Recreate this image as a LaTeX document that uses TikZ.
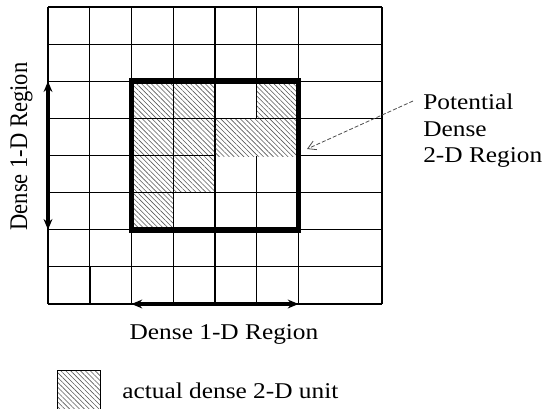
\documentclass[tikz,border=0pt]{standalone}
\usepackage{fontspec}
\setmainfont{Liberation Serif}
\usetikzlibrary{arrows.meta}
\usetikzlibrary{patterns.meta}

\tikzset{
  gridline/.style={line width=0.8pt},
  hatched/.style={pattern={Lines[angle=-45,distance=2.6pt,line width=0.45pt]}, pattern color=black!65},
  regionbox/.style={line width=4.2pt},
  spanarrow/.style={line width=3.2pt, {Stealth[length=8pt,width=6.6pt]}-{Stealth[length=8pt,width=6.6pt]}},
  pointer/.style={line width=0.6pt, black!70, dash pattern=on 3pt off 1.5pt, -{Straight Barb[length=6pt,width=7pt]}},
  lbl/.style={font=\fontsize{16.9}{19.9}\selectfont, inner sep=0pt, xscale=1.125},
}

\begin{document}
\begin{tikzpicture}[x=0.75pt, y=-0.75pt]
    \useasboundingbox (0,0) rectangle (542,408);
    \def\gx{41.75}
    \def\gy{37.125}

    % dense units inside the box
    \foreach \c/\r in {2/2,3/2,5/2,2/3,3/3,2/4,3/4,2/5}
        \fill[hatched] (48+\c*\gx,7+\r*\gy) rectangle ++(\gx,\gy);

    % grid
    \foreach \r in {0,...,8}
        \draw[gridline] (48,7+\r*\gy) -- (382,7+\r*\gy);
    \foreach \c in {0,...,6,8}
        \draw[gridline] (48+\c*\gx,7) -- (48+\c*\gx,304);
    \draw[line width=1.4pt] (48+\gx,7+7*\gy) -- (48+\gx,304);

    % merged unit, covers the inner lines
    \fill[white] (48+4*\gx+0.6,7+3*\gy+0.8) rectangle (48+6*\gx,7+4*\gy+0.8);
    \fill[hatched] (48+4*\gx+0.6,7+3*\gy+0.8) rectangle (48+6*\gx,7+4*\gy+0.8);

    % potential dense 2-D region
    \draw[regionbox] (48+2*\gx,7+2*\gy) rectangle (48+6*\gx,7+6*\gy);

    \coordinate (vtop) at (48,7+2*\gy);
    \coordinate (vbot) at (48,7+6*\gy);
    \coordinate (hleft) at (48+2*\gx,304);
    \coordinate (hright) at (48+6*\gx,304);
    \draw[spanarrow] (vtop) -- (vbot);
    \draw[spanarrow] (hleft) -- (hright);

    \node[lbl, rotate=90, anchor=base] (leftlbl) at (27,146.5) {Dense 1-D Region};
    \node[lbl, anchor=base] (botlbl) at (224,339) {Dense 1-D Region};
    \node[lbl, anchor=west, align=left] (potlbl) at (423,131) {Potential\\Dense\\2-D Region};

    \coordinate (ptrtail) at (413,101);
    \coordinate (ptrtip) at (307,149);
    \draw[pointer] (ptrtail) -- (ptrtip);

    % legend
    \draw[hatched, line width=0.6pt] (57,370) rectangle (100,412);
    \node[lbl, anchor=base west] (keylbl) at (122,398) {actual dense 2-D unit};
\end{tikzpicture}
\end{document}
